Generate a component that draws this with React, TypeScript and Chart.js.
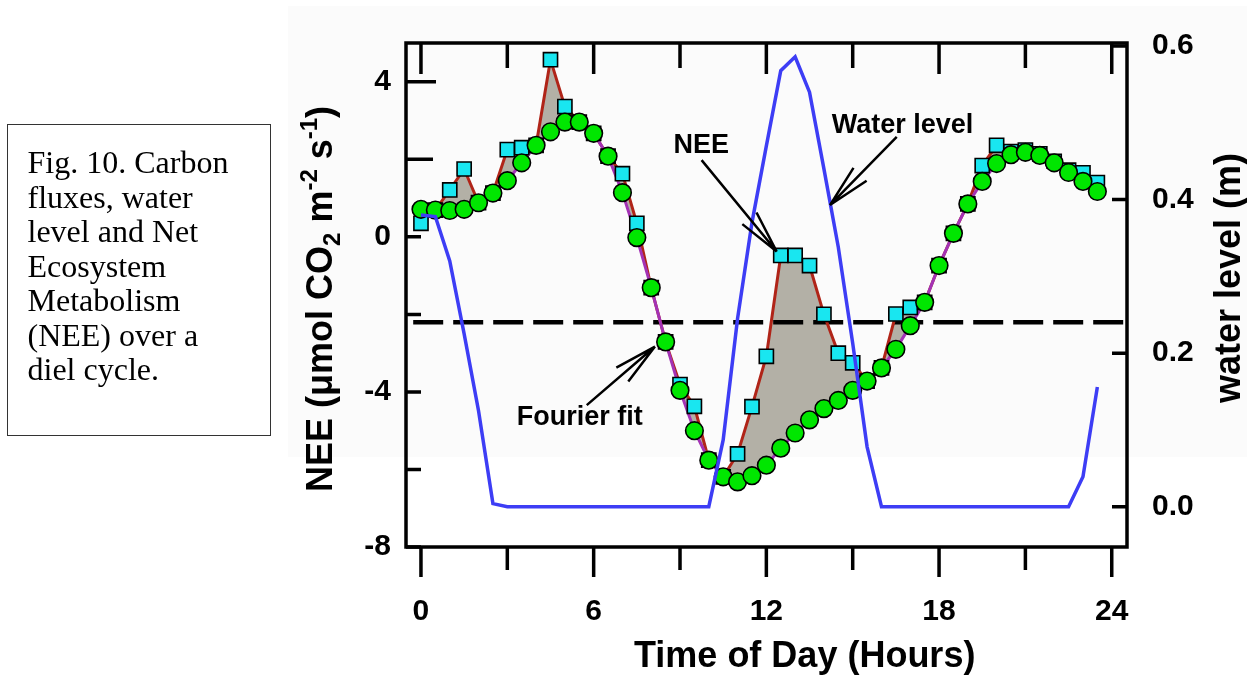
import React, { useEffect, useRef } from 'react';
import { Chart, registerables } from 'chart.js';

Chart.register(...registerables);

// ---------- data ----------
const HOURS = [
  0, 0.5, 1, 1.5, 2, 2.5, 3, 3.5, 4, 4.5, 5, 5.5, 6, 6.5, 7, 7.5, 8, 8.5, 9, 9.5, 10, 10.5, 11, 11.5,
  12, 12.5, 13, 13.5, 14, 14.5, 15, 15.5, 16, 16.5, 17, 17.5, 18, 18.5, 19, 19.5, 20, 20.5, 21, 21.5, 22, 22.5, 23, 23.5,
];

// Fourier fit of NEE (green circles)
const FOURIER_FIT = [
  0.71, 0.69, 0.68, 0.71, 0.88, 1.13, 1.45, 1.91, 2.36, 2.71, 2.96, 2.96, 2.67, 2.08, 1.14, -0.02, -1.31, -2.71, -3.96, -5.0, -5.76, -6.19, -6.32, -6.16,
  -5.89, -5.45, -5.06, -4.72, -4.43, -4.22, -3.96, -3.72, -3.38, -2.9, -2.29, -1.69, -0.74, 0.09, 0.85, 1.43, 1.89, 2.12, 2.18, 2.1, 1.91, 1.66, 1.43, 1.17,
];

// measured NEE (cyan squares)
const NEE_MEASURED = [
  0.35, 0.69, 1.21, 1.75, 0.88, 1.13, 2.25, 2.3, 2.36, 4.57, 3.36, 2.96, 2.67, 2.08, 1.63, 0.35, -1.31, -2.71, -3.81, -4.37, -5.76, -6.19, -5.6, -4.38,
  -3.08, -0.48, -0.48, -0.74, -2.0, -3.0, -3.25, -3.72, -3.38, -1.99, -1.82, -1.69, -0.74, 0.09, 0.85, 1.84, 2.36, 2.2, 2.24, 2.14, 1.95, 1.72, 1.65, 1.4,
];

// water level (m), right axis
const WATER_LEVEL = [
  0.38, 0.378, 0.32, 0.225, 0.125, 0.004, 0, 0, 0, 0, 0, 0, 0, 0, 0, 0, 0, 0, 0, 0, 0, 0.087, 0.245, 0.37,
  0.47, 0.568, 0.586, 0.54, 0.44, 0.338, 0.213, 0.078, 0, 0, 0, 0, 0, 0, 0, 0, 0, 0, 0, 0, 0, 0, 0.039, 0.156,
];

// horizontal dashed reference level (NEE units) and its hour span
const REF_LEVEL = -2.2;
const REF_SPAN = [-0.27, 24.53];

const X_TICKS = [0, 3, 6, 9, 12, 15, 18, 21, 24];
const X_LABELS = [0, 6, 12, 18, 24];
const Y_TICKS = [-8, -6, -4, -2, 0, 2, 4];
const Y_LABELS = [-8, -4, 0, 4];
const Y2_TICKS = [0, 0.2, 0.4, 0.6];

const CAPTION_LINES = [
  'Fig. 10. Carbon',
  'fluxes, water',
  'level and Net',
  'Ecosystem',
  'Metabolism',
  '(NEE) over a',
  'diel cycle.',
];

// annotations in data units (hours, NEE)
const ANNOTATIONS = [
  { text: 'NEE', at: [8.77, 2.15], tail: [9.75, 1.98], tip: [12.36, -0.38] },
  { text: 'Water level', at: [14.27, 2.67], tail: [16.53, 2.58], tip: [14.21, 0.82] },
  { text: 'Fourier fit', at: [3.33, -4.85], tail: [5.76, -4.34], tip: [8.13, -2.83] },
];

const SANS = '"Liberation Sans", Arial, Helvetica, sans-serif';

const pts = (ys: number[]) => HOURS.map((h, i) => ({ x: h, y: ys[i] }));

const backgroundPlugin = {
  id: 'bgTint',
  beforeDraw(chart: any) {
    const ctx = chart.ctx;
    ctx.save();
    ctx.fillStyle = '#fbfbfb';
    ctx.fillRect(288, 6, chart.width - 288, 451);
    ctx.restore();
  },
};

const framePlugin = {
  id: 'frameTicks',
  afterDatasetsDraw(chart: any) {
    const { ctx, chartArea: a, scales } = chart;
    const x = scales.x, y = scales.y, y2 = scales.y2;
    ctx.save();
    ctx.strokeStyle = '#000';
    ctx.lineWidth = 3.5;
    ctx.lineCap = 'butt';
    ctx.beginPath();
    for (const v of X_TICKS) {
      const px = x.getPixelForValue(v);
      const major = v % 6 === 0;
      ctx.moveTo(px, a.top);
      ctx.lineTo(px, a.top + (major ? 31 : 25));
      ctx.moveTo(px, a.bottom);
      ctx.lineTo(px, a.bottom + (major ? 30 : 23));
    }
    for (const v of Y_TICKS) {
      const py = y.getPixelForValue(v);
      const len = v === 4 ? 30 : v === 2 ? 27 : 15;
      ctx.moveTo(a.left, py);
      ctx.lineTo(a.left + len, py);
    }
    for (const v of Y2_TICKS) {
      const py = y2.getPixelForValue(v);
      ctx.moveTo(a.right, py);
      ctx.lineTo(a.right - 15, py);
    }
    ctx.stroke();
    ctx.lineJoin = 'miter';
    ctx.strokeRect(a.left, a.top, a.right - a.left, a.bottom - a.top);
    ctx.restore();
  },
  afterDraw(chart: any) {
    const { ctx, chartArea: a, scales } = chart;
    const x = scales.x, y = scales.y;
    ctx.save();
    ctx.fillStyle = '#000';
    ctx.strokeStyle = '#000';
    ctx.font = `bold 27px ${SANS}`;
    ctx.textAlign = 'left';
    ctx.textBaseline = 'alphabetic';
    ctx.lineWidth = 2.5;
    for (const an of ANNOTATIONS) {
      ctx.fillText(an.text, x.getPixelForValue(an.at[0]), y.getPixelForValue(an.at[1]));
      const x1 = x.getPixelForValue(an.tail[0]), y1 = y.getPixelForValue(an.tail[1]);
      const x2 = x.getPixelForValue(an.tip[0]), y2p = y.getPixelForValue(an.tip[1]);
      const th = Math.atan2(y2p - y1, x2 - x1);
      ctx.beginPath();
      ctx.moveTo(x1, y1);
      ctx.lineTo(x2, y2p);
      for (const d of [-0.21, 0.21]) {
        ctx.moveTo(x2, y2p);
        ctx.lineTo(x2 + 44 * Math.cos(th + Math.PI + d), y2p + 44 * Math.sin(th + Math.PI + d));
      }
      ctx.stroke();
    }
    // bottom title
    ctx.font = `bold 36px ${SANS}`;
    ctx.fillText('Time of Day (Hours)', 634, a.bottom + 120);
    // left title (rotated, with sub/superscripts)
    ctx.save();
    ctx.translate(a.left - 74, 492);
    ctx.rotate(-Math.PI / 2);
    let cx = 0;
    const seg = (t: string, size: number, dy: number) => {
      ctx.font = `bold ${size}px ${SANS}`;
      ctx.fillText(t, cx, dy);
      cx += ctx.measureText(t).width;
    };
    seg('NEE (\u03bcmol CO', 36, 0);
    seg('2', 24, 8);
    seg(' m', 36, 0);
    seg('-2', 24, -15);
    seg(' s', 36, 0);
    seg('-1', 24, -15);
    seg(')', 36, 0);
    ctx.restore();
    // right title
    ctx.save();
    ctx.translate(a.right + 113, 403);
    ctx.rotate(-Math.PI / 2);
    ctx.font = `bold 36px ${SANS}`;
    ctx.fillText('water level (m)', 0, 0);
    ctx.restore();
    ctx.restore();
  },
};

export default function App() {
  const ref = useRef<HTMLCanvasElement | null>(null);

  useEffect(() => {
    if (!ref.current) return;
    const tickFont = { family: SANS, size: 30, weight: 'bold' as const };
    const chart = new Chart(ref.current, {
      type: 'line',
      data: {
        datasets: [
          {
            label: 'reference',
            data: REF_SPAN.map((h) => ({ x: h, y: REF_LEVEL })),
            borderColor: '#000',
            borderWidth: 4.5,
            borderDash: [30, 10],
            borderCapStyle: 'butt',
            pointRadius: 0,
            fill: false,
            order: 5,
          },
          {
            label: 'NEE line',
            data: pts(NEE_MEASURED),
            borderColor: '#b02418',
            borderWidth: 3,
            pointRadius: 0,
            fill: { target: 2 },
            backgroundColor: '#b3b0a6',
            order: 4,
          },
          {
            label: 'Fourier fit line',
            data: pts(FOURIER_FIT),
            borderColor: '#a332b5',
            borderWidth: 3,
            pointRadius: 0,
            fill: false,
            order: 3,
          },
          {
            label: 'NEE',
            data: pts(NEE_MEASURED),
            showLine: false,
            pointStyle: 'rect',
            pointRadius: 10,
            pointBackgroundColor: '#19e6f0',
            pointBorderColor: '#000',
            pointBorderWidth: 1.6,
            fill: false,
            order: 2,
          },
          {
            label: 'Fourier fit',
            data: pts(FOURIER_FIT),
            showLine: false,
            pointStyle: 'circle',
            pointRadius: 8.8,
            pointBackgroundColor: '#00e600',
            pointBorderColor: '#000',
            pointBorderWidth: 1.6,
            fill: false,
            order: 1,
          },
          {
            label: 'Water level',
            data: pts(WATER_LEVEL),
            yAxisID: 'y2',
            borderColor: '#3d3df5',
            borderWidth: 3.5,
            pointRadius: 0,
            fill: false,
            order: 0,
          },
        ],
      },
      options: {
        animation: false,
        responsive: false,
        devicePixelRatio: 1,
        events: [],
        layout: { padding: { top: 43, left: 0, right: 0, bottom: 0 } },
        elements: { line: { tension: 0 } },
        plugins: {
          legend: { display: false },
          tooltip: { enabled: false },
          filler: { drawTime: 'beforeDatasetsDraw' },
        },
        scales: {
          x: {
            type: 'linear',
            position: 'bottom',
            min: -0.52,
            max: 24.53,
            afterBuildTicks: (s: any) => {
              s.ticks = X_TICKS.map((v) => ({ value: v }));
            },
            afterFit: (s: any) => {
              s.height = 128;
            },
            grid: { display: false, drawTicks: false },
            border: { display: false },
            ticks: {
              autoSkip: false,
              maxRotation: 0,
              minRotation: 0,
              padding: 47,
              color: '#000',
              font: tickFont,
              callback: (v: any) => (X_LABELS.includes(Number(v)) ? String(v) : ''),
            },
          },
          y: {
            type: 'linear',
            position: 'left',
            min: -8,
            max: 5,
            afterBuildTicks: (s: any) => {
              s.ticks = Y_TICKS.map((v) => ({ value: v }));
            },
            afterFit: (s: any) => {
              s.width = 406;
            },
            grid: { display: false, drawTicks: false },
            border: { display: false },
            ticks: {
              autoSkip: false,
              padding: 15,
              color: '#000',
              font: tickFont,
              callback: (v: any) => (Y_LABELS.includes(Number(v)) ? String(v) : ''),
            },
          },
          y2: {
            type: 'linear',
            position: 'right',
            min: -0.0525,
            max: 0.604,
            afterBuildTicks: (s: any) => {
              s.ticks = Y2_TICKS.map((v) => ({ value: v }));
            },
            afterFit: (s: any) => {
              s.width = 120;
            },
            grid: { display: false, drawTicks: false },
            border: { display: false },
            ticks: {
              autoSkip: false,
              padding: 25,
              color: '#000',
              font: tickFont,
              callback: (v: any) => Number(v).toFixed(1),
            },
          },
        },
      } as any,
      plugins: [backgroundPlugin, framePlugin],
    });
    return () => chart.destroy();
  }, []);

  return (
    <div style={{ position: 'fixed', left: 0, top: 0, width: 1247, height: 675, background: '#fff', overflow: 'hidden' }}>
      <canvas ref={ref} width={1247} height={675} style={{ display: 'block', width: 1247, height: 675 }} />
      <div
        style={{
          position: 'absolute',
          left: 7,
          top: 124,
          width: 264,
          height: 312,
          boxSizing: 'border-box',
          border: '1.5px solid #333',
          padding: '20px 0 0 19.5px',
          fontFamily: '"Liberation Serif", "Times New Roman", serif',
          fontSize: 32,
          lineHeight: '34.5px',
          color: '#000',
          whiteSpace: 'nowrap',
        }}
      >
        {CAPTION_LINES.map((l, i) => (
          <div key={i}>{l}</div>
        ))}
      </div>
    </div>
  );
}
